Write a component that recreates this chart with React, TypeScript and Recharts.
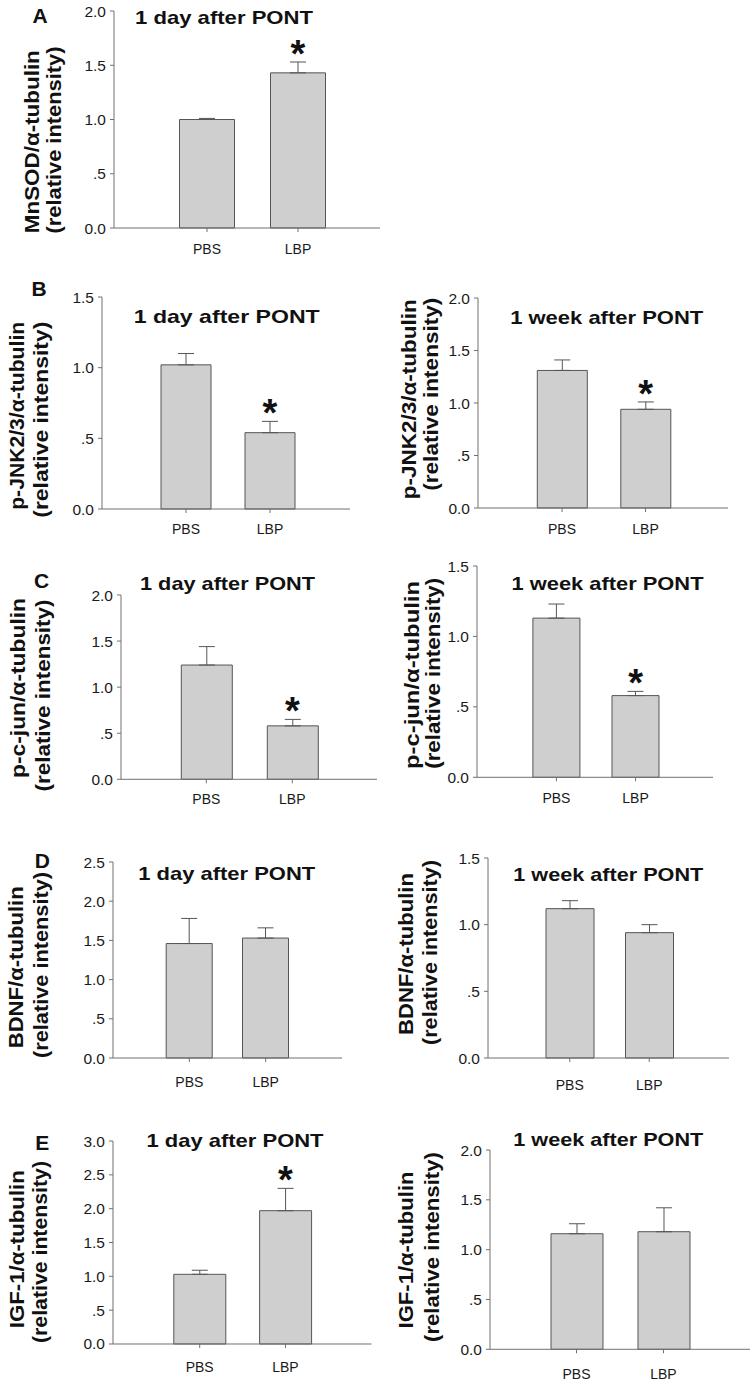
import React from "react";
import { ComposedChart, Bar, ErrorBar, Scatter, XAxis, YAxis } from "recharts";

const groups = ["PBS", "LBP"];

// MnSOD, 1 day
const mnsodDay1 = [1.0, 1.43];
const mnsodDay1Err = [0.01, 0.1];
const mnsodDay1Sig = [false, true];

// p-JNK2/3
const jnkDay1 = [1.02, 0.54];
const jnkDay1Err = [0.08, 0.08];
const jnkDay1Sig = [false, true];
const jnkWeek1 = [1.31, 0.94];
const jnkWeek1Err = [0.1, 0.07];
const jnkWeek1Sig = [false, true];

// p-c-jun
const cjunDay1 = [1.24, 0.58];
const cjunDay1Err = [0.2, 0.07];
const cjunDay1Sig = [false, true];
const cjunWeek1 = [1.13, 0.58];
const cjunWeek1Err = [0.1, 0.03];
const cjunWeek1Sig = [false, true];

// BDNF
const bdnfDay1 = [1.46, 1.53];
const bdnfDay1Err = [0.32, 0.13];
const bdnfDay1Sig = [false, false];
const bdnfWeek1 = [1.12, 0.94];
const bdnfWeek1Err = [0.06, 0.06];
const bdnfWeek1Sig = [false, false];

// IGF-1
const igfDay1 = [1.03, 1.97];
const igfDay1Err = [0.06, 0.33];
const igfDay1Sig = [false, true];
const igfWeek1 = [1.16, 1.18];
const igfWeek1Err = [0.1, 0.24];
const igfWeek1Sig = [false, false];

const ticks15 = [0, 0.5, 1, 1.5];
const ticks20 = [0, 0.5, 1, 1.5, 2];
const ticks25 = [0, 0.5, 1, 1.5, 2, 2.5];
const ticks30 = [0, 0.5, 1, 1.5, 2, 2.5, 3];

const DAY = "1 day after PONT";
const WEEK = "1 week after PONT";
const REL = "(relative intensity)";

const FONT = '"Liberation Sans", Arial, Helvetica, sans-serif';
const AXIS = "#707070";
const BAR_FILL = "#cfcfcf";
const BAR_EDGE = "#555555";

const rows = (means: number[], errs: number[], sig: boolean[]) =>
  groups.map((g, i) => ({
    group: g,
    mean: means[i],
    err: [0, errs[i]],
    star: sig[i] ? means[i] + errs[i] : null,
  }));

const fmt = (v: number) => (v > 0 && v < 1 ? "." + String(v).split(".")[1] : v.toFixed(1));

const panels = [
  { data: rows(mnsodDay1, mnsodDay1Err, mnsodDay1Sig), ticks: ticks20, axisX: 114, topY: 11, bottomY: 228, xEnd: 380, padL: 47.5, padR: 36.5, barSize: 55, gap: 16,
    title: { t: DAY, x: 224, y: 24, len: 178 }, letter: { t: "A", x: 40, y: 23 },
    ylab: [{ t: "MnSOD/α-tubulin", x: 31.7, y: 141.7, len: 183 }, { t: REL, x: 54, y: 140, len: 187 }] },
  { data: rows(jnkDay1, jnkDay1Err, jnkDay1Sig), ticks: ticks15, axisX: 102, topY: 297.3, bottomY: 509.3, xEnd: 350, padL: 42, padR: 38, barSize: 50, gap: 15.5,
    title: { t: DAY, x: 226.7, y: 323.3, len: 186 }, letter: { t: "B", x: 39, y: 296 },
    ylab: [{ t: "p-JNK2/3/α-tubulin", x: 16.7, y: 415.8, len: 188 }, { t: REL, x: 40.8, y: 419.7, len: 196 }] },
  { data: rows(jnkWeek1, jnkWeek1Err, jnkWeek1Sig), ticks: ticks20, axisX: 478, topY: 298.3, bottomY: 508.3, xEnd: 728, padL: 42.3, padR: 40.7, barSize: 50, gap: 16.5,
    title: { t: WEEK, x: 606.7, y: 324, len: 193 }, letter: null,
    ylab: [{ t: "p-JNK2/3/α-tubulin", x: 409, y: 399.2, len: 200 }, { t: REL, x: 430.8, y: 394.2, len: 193 }] },
  { data: rows(cjunDay1, cjunDay1Err, cjunDay1Sig), ticks: ticks20, axisX: 120.7, topY: 595, bottomY: 779.3, xEnd: 376.7, padL: 42.3, padR: 41.7, barSize: 51, gap: 14.5,
    title: { t: DAY, x: 227.5, y: 590, len: 175 }, letter: { t: "C", x: 41.7, y: 588.3 },
    ylab: [{ t: "p-c-jun/α-tubulin", x: 18.3, y: 688, len: 180 }, { t: REL, x: 43.3, y: 695.5, len: 192 }] },
  { data: rows(cjunWeek1, cjunWeek1Err, cjunWeek1Sig), ticks: ticks15, axisX: 477.3, topY: 566, bottomY: 777.3, xEnd: 713.3, padL: 39.9, padR: 37.9, barSize: 47, gap: 16,
    title: { t: WEEK, x: 607.5, y: 590, len: 192 }, letter: null,
    ylab: [{ t: "p-c-jun/α-tubulin", x: 411.7, y: 675, len: 188 }, { t: REL, x: 433.3, y: 673.3, len: 191 }] },
  { data: rows(bdnfDay1, bdnfDay1Err, bdnfDay1Sig), ticks: ticks25, axisX: 112.7, topY: 862.3, bottomY: 1058.3, xEnd: 341.7, padL: 38.2, padR: 38.2, barSize: 46, gap: 19,
    title: { t: DAY, x: 226.7, y: 880, len: 177 }, letter: { t: "D", x: 42.3, y: 868.3 },
    ylab: [{ t: "BDNF/α-tubulin", x: 15.8, y: 967.3, len: 162 }, { t: REL, x: 40.8, y: 965, len: 186 }] },
  { data: rows(bdnfWeek1, bdnfWeek1Err, bdnfWeek1Sig), ticks: ticks15, axisX: 488.3, topY: 857.7, bottomY: 1057.7, xEnd: 729.3, padL: 42, padR: 40, barSize: 48, gap: 22.5,
    title: { t: WEEK, x: 608.3, y: 880.7, len: 190 }, letter: null,
    ylab: [{ t: "BDNF/α-tubulin", x: 405.8, y: 954, len: 162 }, { t: REL, x: 430, y: 952.5, len: 185 }] },
  { data: rows(igfDay1, igfDay1Err, igfDay1Sig), ticks: ticks30, axisX: 113.3, topY: 1141, bottomY: 1344, xEnd: 371.7, padL: 43.8, padR: 43, barSize: 52, gap: 18,
    title: { t: DAY, x: 235, y: 1146.7, len: 177 }, letter: { t: "E", x: 42.3, y: 1150 },
    ylab: [{ t: "IGF-1/α-tubulin", x: 16.7, y: 1249.2, len: 158 }, { t: REL, x: 40, y: 1252, len: 182 }] },
  { data: rows(igfWeek1, igfWeek1Err, igfWeek1Sig), ticks: ticks20, axisX: 490, topY: 1150, bottomY: 1349.3, xEnd: 750, padL: 43, padR: 43, barSize: 52, gap: 19.5,
    title: { t: WEEK, x: 608.3, y: 1145.7, len: 190 }, letter: null,
    ylab: [{ t: "IGF-1/α-tubulin", x: 405.8, y: 1250, len: 157 }, { t: REL, x: 431.7, y: 1247, len: 190 }] },
];

const Star = (props: any) => {
  const { cx, cy, payload } = props;
  if (!payload || payload.star == null || cy == null || isNaN(cy)) return <g />;
  return (
    <text x={cx} y={cy + 5} textAnchor="middle" fontSize={38} fontWeight="bold" fontFamily={FONT} fill="#111">
      *
    </text>
  );
};

function Panel({ p }: { p: any }) {
  const LEFT = 60;
  const TOP = 20;
  const BOTTOM = 45;
  const RIGHT = 6;
  const w = p.xEnd - p.axisX + LEFT + RIGHT;
  const h = p.bottomY - p.topY + TOP + BOTTOM;
  const max = p.ticks[p.ticks.length - 1];
  return (
    <div style={{ position: "absolute", left: p.axisX - LEFT, top: p.topY - TOP }}>
      <ComposedChart width={w} height={h} data={p.data} margin={{ top: TOP, right: RIGHT, bottom: 0, left: 0 }}>
        <XAxis
          dataKey="group"
          height={BOTTOM}
          padding={{ left: p.padL, right: p.padR }}
          stroke={AXIS}
          tickSize={4}
          tickMargin={p.gap - 4}
          tickLine={{ stroke: AXIS }}
          tick={{ fill: "#1a1a1a", fontSize: 14, fontFamily: FONT }}
        />
        <YAxis
          width={LEFT}
          domain={[0, max]}
          ticks={p.ticks}
          tickFormatter={fmt}
          stroke={AXIS}
          tickSize={4}
          tickMargin={4}
          tickLine={{ stroke: AXIS }}
          tick={{ fill: "#1a1a1a", fontSize: 15.5, fontFamily: FONT }}
        />
        <Bar dataKey="mean" barSize={p.barSize} fill={BAR_FILL} stroke={BAR_EDGE} strokeWidth={1} isAnimationActive={false}>
          <ErrorBar dataKey="err" width={8} stroke={BAR_EDGE} strokeWidth={1} direction="y" />
        </Bar>
        <Scatter dataKey="star" shape={Star} isAnimationActive={false} />
      </ComposedChart>
    </div>
  );
}

export default function App() {
  return (
    <div style={{ position: "absolute", left: 0, top: 0, width: 755, height: 1384, background: "#fff", overflow: "hidden", fontFamily: FONT }}>
      {panels.map((p, i) => (
        <Panel key={i} p={p} />
      ))}
      <svg width={755} height={1384} style={{ position: "absolute", left: 0, top: 0, pointerEvents: "none" }}>
        {panels.map((p, i) => (
          <g key={i} fontFamily={FONT} fontWeight="bold" fill="#111">
            <text x={p.title.x} y={p.title.y} textAnchor="middle" fontSize={19} textLength={p.title.len} lengthAdjust="spacingAndGlyphs">
              {p.title.t}
            </text>
            {p.letter && (
              <text x={p.letter.x} y={p.letter.y} textAnchor="middle" fontSize={21}>
                {p.letter.t}
              </text>
            )}
            {p.ylab.map((l: any, j: number) => (
              <text
                key={j}
                x={l.x}
                y={l.y}
                transform={`rotate(-90 ${l.x} ${l.y})`}
                textAnchor="middle"
                dominantBaseline="central"
                fontSize={20}
                textLength={l.len}
                lengthAdjust="spacingAndGlyphs"
              >
                {l.t}
              </text>
            ))}
          </g>
        ))}
      </svg>
    </div>
  );
}
